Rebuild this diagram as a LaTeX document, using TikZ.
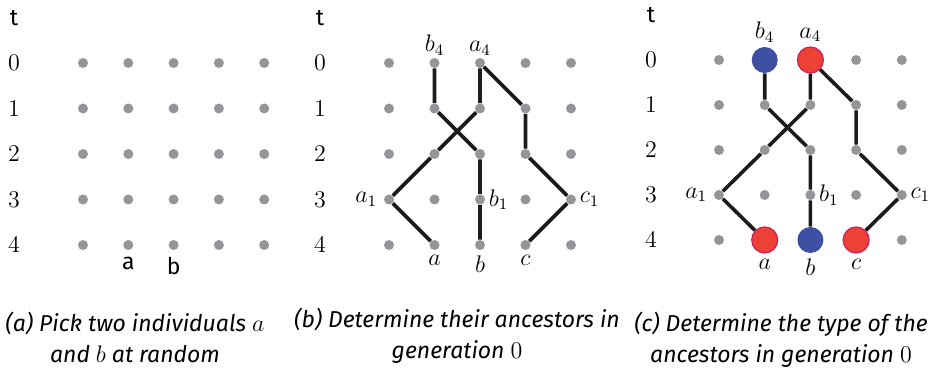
\documentclass[tikz,border=0pt]{standalone}
\usepackage{fontspec}
\newfontfamily\capfont{Fira Sans}
\usetikzlibrary{positioning}
\definecolor{dotgray}{HTML}{949598}
\definecolor{typered}{HTML}{EE4136}
\definecolor{typeredrim}{HTML}{C8205A}
\definecolor{typeblue}{HTML}{3E50A2}
\definecolor{linkblack}{HTML}{1C1C1C}

\begin{document}
\begin{tikzpicture}[x=0.5pt, y=-0.5pt,
  dot/.style={circle, fill=dotgray, inner sep=0pt, minimum size=5pt},
  typenode/.style={circle, fill=#1, inner sep=0pt, minimum size=13pt},
  link/.style={draw=linkblack, line width=1.8pt},
  rowlbl/.style={font=\fontsize{12.4}{14}\selectfont},
  tlbl/.style={font=\capfont\fontsize{11.5}{14}\selectfont},
  anc/.style={font=\fontsize{12}{14}\selectfont, inner sep=1pt},
  caption/.style={font=\capfont\itshape\fontsize{11.5}{15.5}\selectfont, align=center}
]
\useasboundingbox (0,0) rectangle (942,368);

% (a) the grid and the two picked individuals
\node[tlbl] (ta) at (14,18) {t};
\foreach \r in {0,...,4} {
  \node[rowlbl] (ra\r) at (14,63+45.5*\r) {$\r$};
  \foreach \c in {1,...,5}
    \node[dot] (a-\c-\r) at (83+45.3*\c-45.3, 63+45.5*\r) {};
}
\node[tlbl, below=0pt of a-2-4] (pick-a) {a};
\node[tlbl, below=0pt of a-3-4] (pick-b) {b};
\node[caption] (capa) at (135,337) {(a) Pick two individuals $a$\\and $b$ at random};

% (b) the ancestral lines
\node[tlbl] (tb) at (320,18) {t};
\foreach \r in {0,...,4} {
  \node[rowlbl] (rb\r) at (320,63+45.5*\r) {$\r$};
  \foreach \c in {1,...,5}
    \node[dot] (b-\c-\r) at (389+45.5*\c-45.5, 63+45.5*\r) {};
}
\draw[link] (b-2-0) -- (b-2-1) -- (b-3-2) -- (b-3-3) -- (b-3-4);
\draw[link] (b-3-0) -- (b-3-1) -- (b-2-2) -- (b-1-3) -- (b-2-4);
\draw[link] (b-3-0) -- (b-4-1) -- (b-4-2) -- (b-5-3) -- (b-4-4);
\node[anc, above=0pt of b-2-0] {$b_4$};
\node[anc, above=0pt of b-3-0] {$a_4$};
\node[anc, left=2pt of b-1-3] {$a_1$};
\node[anc, right=0.5pt of b-3-3] {$b_1$};
\node[anc, right=0.5pt of b-5-3] {$c_1$};
\node[anc, below=1.4pt of b-2-4] {$a$};
\node[anc, below=1.4pt of b-3-4] {$b$};
\node[anc, below=1.4pt of b-4-4] {$c$};
\node[caption] (capb) at (457,336) {(b) Determine their ancestors in\\generation $0$};

% (c) types of the ancestors
\node[tlbl] (tc) at (651,15) {t};
\foreach \r in {0,...,4} {
  \node[rowlbl] (rc\r) at (651,60+45*\r) {$\r$};
  \foreach \c in {1,...,5}
    \node[dot] (c-\c-\r) at (719+45.7*\c-45.7, 60+45*\r) {};
}
\node[typenode=typeblue] (cb4) at (c-2-0) {};
\node[typenode=typered, draw=typeredrim, line width=0.6pt] (ca4) at (c-3-0) {};
\node[typenode=typered, draw=typeredrim, line width=0.6pt] (ca) at (c-2-4) {};
\node[typenode=typeblue] (cb) at (c-3-4) {};
\node[typenode=typered, draw=typeredrim, line width=0.6pt] (cc) at (c-4-4) {};
\draw[link] (cb4) -- (c-2-1) -- (c-3-2) -- (c-3-3) -- (cb);
\draw[link] (ca4) -- (c-3-1) -- (c-2-2) -- (c-1-3) -- (ca);
\draw[link] (ca4) -- (c-4-1) -- (c-4-2) -- (c-5-3) -- (cc);
\node[anc, above=1pt of cb4] {$b_4$};
\node[anc, above=1pt of ca4] {$a_4$};
\node[anc, left=2pt of c-1-3] {$a_1$};
\node[anc, right=0.5pt of c-3-3] {$b_1$};
\node[anc, right=0.5pt of c-5-3] {$c_1$};
\node[anc, below=1.4pt of ca] {$a$};
\node[anc, below=1.4pt of cb] {$b$};
\node[anc, below=1.4pt of cc] {$c$};
\node[caption] (capc) at (781,340) {(c) Determine the type of the\\ancestors in generation $0$};
\end{tikzpicture}
\end{document}
